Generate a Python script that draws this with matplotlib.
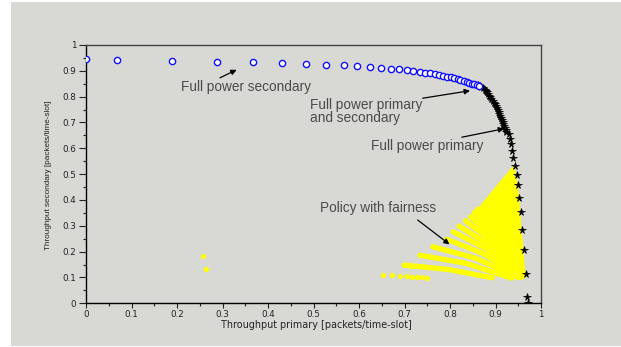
import matplotlib
matplotlib.use("Agg")
import matplotlib.pyplot as plt
from matplotlib.patches import Rectangle
from matplotlib.ticker import MultipleLocator

# full power secondary (blue circles)
sec_x = [0.0, 0.069, 0.188, 0.287, 0.368, 0.431, 0.484, 0.527, 0.566, 0.596,
         0.624, 0.648, 0.670, 0.689, 0.705, 0.719, 0.733, 0.744, 0.756, 0.766,
         0.776, 0.785, 0.794, 0.802, 0.809, 0.817, 0.823, 0.830, 0.837, 0.842,
         0.848, 0.853, 0.859, 0.864]
sec_y = [0.945, 0.942, 0.939, 0.936, 0.934, 0.930, 0.927, 0.924, 0.921, 0.918,
         0.914, 0.911, 0.909, 0.906, 0.902, 0.899, 0.895, 0.893, 0.890, 0.888,
         0.884, 0.881, 0.877, 0.875, 0.871, 0.867, 0.865, 0.861, 0.857, 0.854,
         0.850, 0.848, 0.845, 0.842]

# full power primary (black stars)
pri_x = [0.862, 0.866, 0.869, 0.873, 0.876, 0.879, 0.882, 0.884, 0.886, 0.889,
         0.891, 0.894, 0.897, 0.899, 0.901, 0.903, 0.905, 0.907, 0.908, 0.910,
         0.912, 0.914, 0.916, 0.917, 0.919, 0.921, 0.922, 0.924, 0.930, 0.931,
         0.934, 0.936, 0.939, 0.943, 0.947, 0.949, 0.952, 0.955, 0.959, 0.962,
         0.966, 0.969, 0.972]
pri_y = [0.845, 0.840, 0.836, 0.832, 0.826, 0.821, 0.817, 0.811, 0.804, 0.797,
         0.791, 0.784, 0.777, 0.770, 0.762, 0.755, 0.748, 0.740, 0.733, 0.725,
         0.718, 0.710, 0.702, 0.694, 0.686, 0.678, 0.670, 0.664, 0.655, 0.636,
         0.616, 0.591, 0.564, 0.532, 0.497, 0.458, 0.409, 0.352, 0.284, 0.206,
         0.112, 0.026, 0.002]

# policy with fairness (yellow), one curve per row: start, middle, end
fair_x = [[0.699, 0.796, 0.893], [0.734, 0.835, 0.936], [0.762, 0.856, 0.950],
          [0.793, 0.874, 0.955], [0.807, 0.882, 0.958], [0.820, 0.890, 0.960],
          [0.834, 0.897, 0.961], [0.845, 0.903, 0.962], [0.853, 0.908, 0.963],
          [0.860, 0.912, 0.964]]
fair_y = [[0.148, 0.131, 0.099], [0.186, 0.155, 0.097], [0.219, 0.175, 0.100],
          [0.248, 0.192, 0.100], [0.277, 0.210, 0.102], [0.299, 0.223, 0.104],
          [0.319, 0.236, 0.106], [0.335, 0.246, 0.108], [0.351, 0.256, 0.110],
          [0.364, 0.264, 0.112]]
fair_dots_x = [0.652, 0.673, 0.690, 0.705, 0.717, 0.728, 0.739, 0.749,
               0.699, 0.714, 0.727, 0.738, 0.258, 0.264]
fair_dots_y = [0.110, 0.108, 0.106, 0.104, 0.102, 0.101, 0.100, 0.099,
               0.148, 0.146, 0.145, 0.143, 0.183, 0.132]
# solid part of the fan near the tip
solid_x = [0.860, 0.941, 0.950, 0.957, 0.962, 0.966, 0.948, 0.930, 0.912]
solid_y = [0.366, 0.537, 0.450, 0.300, 0.200, 0.100, 0.100, 0.180, 0.264]

ticks = [0, 0.1, 0.2, 0.3, 0.4, 0.5, 0.6, 0.7, 0.8, 0.9, 1]
tick_labels = ['0', '0.1', '0.2', '0.3', '0.4', '0.5', '0.6', '0.7', '0.8', '0.9', '1']

bg = '#d8d8d4'
txt = '#4a4a4a'

fig = plt.figure(figsize=(6.21, 3.47), dpi=100, facecolor='white')
fig.add_artist(Rectangle((11 / 621, 1 / 347), 1, 344 / 347, transform=fig.transFigure,
                         facecolor=bg, edgecolor='none', zorder=0))
ax = fig.add_axes([86 / 621, 1 - 303.3 / 347, 455 / 621, 258.3 / 347])
ax.set_facecolor('none')

ax.fill(solid_x, solid_y, color='yellow', lw=0, zorder=2)
for xs, ys in zip(fair_x, fair_y):
    ax.plot(xs, ys, color='yellow', lw=3.8, solid_capstyle='round', zorder=2)
ax.plot(fair_dots_x, fair_dots_y, 'o', color='yellow', ms=3.8, mew=0, zorder=2)

ax.plot(pri_x, pri_y, '*', color='black', ms=5.5, mew=0.5, zorder=3)
ax.plot(sec_x, sec_y, 'o', mfc='white', mec='#1010ff', ms=4.5, mew=1.0, zorder=4)

ax.set_xlim(0, 1)
ax.set_ylim(0, 1)
ax.set_xticks(ticks)
ax.set_xticklabels(tick_labels)
ax.set_yticks(ticks)
ax.set_yticklabels(tick_labels)
ax.xaxis.set_minor_locator(MultipleLocator(0.05))
ax.yaxis.set_minor_locator(MultipleLocator(0.05))
ax.tick_params(which='major', direction='out', width=0.8, labelsize=6.3,
               colors='#222222')
ax.tick_params(axis='y', which='major', length=5, pad=2)
ax.tick_params(axis='x', which='major', length=3.5, pad=1)
ax.tick_params(which='minor', direction='out', length=2.5, width=0.8, colors='#222222')
for s in ['left', 'bottom']:
    ax.spines[s].set_color('black')
    ax.spines[s].set_linewidth(1)
for s in ['top', 'right']:
    ax.spines[s].set_color('#444444')
    ax.spines[s].set_linewidth(1)

fig.text(316 / 621, 1 - 325 / 347, 'Throughput primary [packets/time-slot]',
         ha='center', va='center', fontsize=6.9, color='#222222')
fig.text(49 / 621, 1 - 175 / 347, 'Throughput secondary [packets/time-slot]',
         ha='center', va='center', rotation=90, fontsize=5.9, color='#222222',
         family='Liberation Sans')

font = dict(fontsize=9.8, color=txt, family='Liberation Sans', va='center', ha='left')
ax.text(0.208, 0.839, 'Full power secondary', **font)
ax.text(0.492, 0.7415, 'Full power primary\nand secondary', linespacing=0.9, **font)
ax.text(0.626, 0.610, 'Full power primary', **font)
ax.text(0.514, 0.368, 'Policy with fairness', **font)

arrow = dict(arrowstyle='-|>', color='black', lw=0.9, mutation_scale=8, shrinkA=0, shrinkB=0)
ax.annotate('', xy=(0.331, 0.904), xytext=(0.2945, 0.873), arrowprops=arrow)
ax.annotate('', xy=(0.844, 0.823), xytext=(0.740, 0.794), arrowprops=arrow)
ax.annotate('', xy=(0.919, 0.676), xytext=(0.826, 0.643), arrowprops=arrow)
ax.annotate('', xy=(0.799, 0.228), xytext=(0.729, 0.3225), arrowprops=arrow)

fig.savefig('out.png', dpi=100, facecolor='white')
